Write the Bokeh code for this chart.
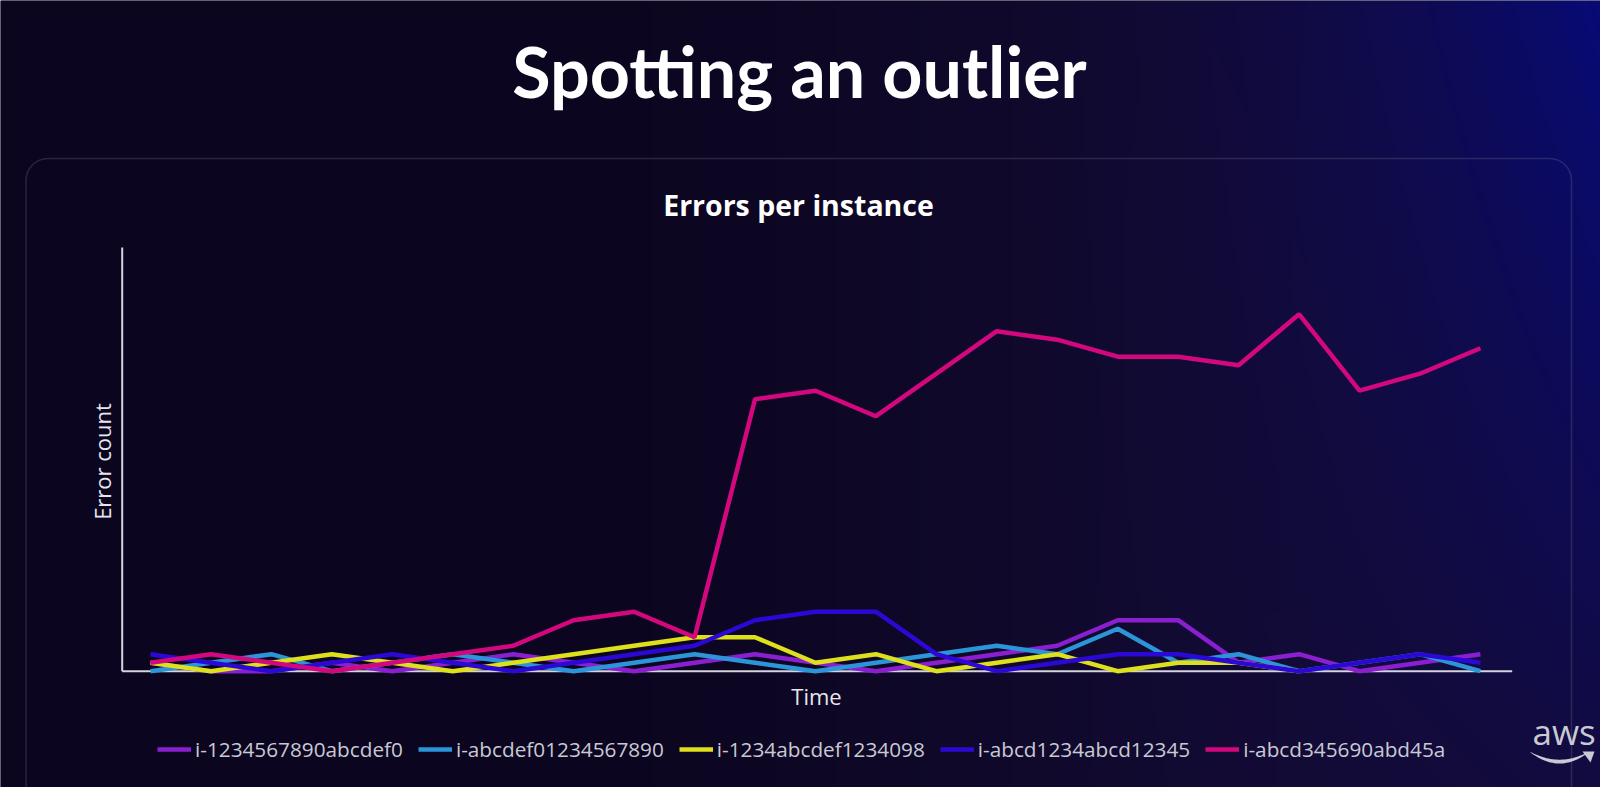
import numpy as np
from bokeh.plotting import figure
from bokeh.models import (Range1d, Label, BoxAnnotation, PolyAnnotation, Legend, LegendItem)
from bokeh.embed import file_html
from bokeh.resources import INLINE

NaN = float("nan")

# ---------------- data ----------------
time_index = list(range(23))
series_names = ["i-1234567890abcdef0", "i-abcdef01234567890", "i-1234abcdef1234098",
                "i-abcd1234abcd12345", "i-abcd345690abd45a"]
errors_purple = [1, 0, 0, 1, 0, 1, 2, 1, 0, 1, 2, 1, 0, 1, 2, 3, 6, 6, 1, 2, 0, 1, 2]
errors_lightblue = [0, 1, 2, 0, 1, 2, 1, 0, 1, 2, 1, 0, 1, 2, 3, 2, 5, 1, 2, 0, 1, 2, 0]
errors_yellow = [1, 0, 1, 2, 1, 0, 1, 2, 3, 4, 4, 1, 2, 0, 1, 2, 0, 1, 1, 0, NaN, NaN, NaN]
errors_darkblue = [2, 1, 0, 1, 2, 1, 0, 1, 2, 3, 6, 7, 7, 2, 0, 1, 2, 2, 1, 0, 1, 2, 1]
errors_pink = [1, 2, 1, 0, 1, 2, 3, 6, 7, 4, 32, 33, 30, 35, 40, 39, 37, 37, 36, 42, 33, 35, 38]
series_values = [errors_purple, errors_lightblue, errors_yellow, errors_darkblue, errors_pink]
series_colors = ["#8a1fd0", "#2b95d8", "#dfe01c", "#2c08d4", "#d3087e"]

main_title = "Spotting an outlier"
chart_title = "Errors per instance"
x_label = "Time"
y_label = "Error count"

# ---------------- layout constants ----------------
W, H = 1600, 787
X0_PX, X_STEP_PX = 150.0, 60.45      # pixel of first time step, pixels per step
Y0_PX, Y_UNIT_PX = 670.7, 8.5        # pixel of zero errors, pixels per error
x_start, x_end = -X0_PX / X_STEP_PX, (W - X0_PX) / X_STEP_PX
y_start, y_end = -(H - Y0_PX) / Y_UNIT_PX, Y0_PX / Y_UNIT_PX
axis_left = (121.7 - X0_PX) / X_STEP_PX
axis_right = (1511.7 - X0_PX) / X_STEP_PX
axis_top = (Y0_PX - 247) / Y_UNIT_PX

BG = "#0b0520"
p = figure(width=W, height=H, output_backend="svg", toolbar_location=None,
           x_range=Range1d(x_start, x_end), y_range=Range1d(y_start, y_end),
           min_border=0, x_axis_location=None, y_axis_location=None)
p.background_fill_color = BG
p.border_fill_color = BG
p.outline_line_color = None
p.grid.visible = False

# ---------------- gradient background ----------------
ny, nx = 197, 400
u = (np.arange(nx) + 0.5) / nx
v = (np.arange(ny) + 0.5) / ny          # 0 = top
U, V = np.meshgrid(u, v)
base = np.array([11, 5, 31], float)
tint = np.array([8, 6, 20], float)
blue = np.array([8, 10, 118], float)
sm = np.clip((U - 0.3) / 0.6, 0, 1)
sm = sm * sm * (3 - 2 * sm)
glow = np.clip((U - 0.55) / 0.45, 0, 1) ** 2.5 * (1 - 0.8 * V)
col = base + sm[..., None] * tint
col = col + glow[..., None] * (blue - col)
img = np.empty((ny, nx), dtype=np.uint32)
view = img.view(dtype=np.uint8).reshape((ny, nx, 4))
view[..., 0:3] = np.clip(np.round(col), 0, 255).astype(np.uint8)
view[..., 3] = 255
img = img[::-1]  # image rows start at the bottom
p.image_rgba(image=[img], x=x_start, y=y_start, dw=x_end - x_start, dh=y_end - y_start)

# rounded panel
p.add_layout(BoxAnnotation(left=25.5, right=1571, top=158, bottom=830,
                           left_units="canvas", right_units="canvas",
                           top_units="canvas", bottom_units="canvas",
                           fill_alpha=0, line_color="#736e8c", line_width=1.5,
                           border_radius=22))

# axis lines
p.line([axis_left, axis_left], [0, axis_top], line_color="#d4d4de", line_width=2)
p.line([axis_left, axis_right], [0, 0], line_color="#d4d4de", line_width=2)

# ---------------- series ----------------
items = []
for name, vals, c in zip(series_names, series_values, series_colors):
    r = p.line(time_index, vals, line_color=c, line_width=4.5)
    items.append(LegendItem(label=name, renderers=[r]))

legend = Legend(items=items, orientation="horizontal", location=(157, 24.5),
                padding=0, margin=0, spacing=15, glyph_width=34, glyph_height=20,
                label_standoff=4, background_fill_alpha=0, border_line_alpha=0,
                label_text_color="#c9c9d4", label_text_font="Open Sans",
                label_text_font_size="20.75px")
p.add_layout(legend, "center")

# ---------------- texts ----------------
def canvas_label(**kw):
    p.add_layout(Label(x_units="canvas", y_units="canvas", **kw))

canvas_label(x=799, y=70, text=main_title, text_align="center", text_baseline="alphabetic",
             text_font="Lato", text_font_style="bold", text_font_size="70px",
             text_color="#ffffff")
canvas_label(x=798, y=204, text=chart_title, text_align="center", text_baseline="alphabetic",
             text_font="Open Sans", text_font_style="bold", text_font_size="28.5px",
             text_color="#ffffff")
canvas_label(x=816, y=695, text=x_label, text_align="center", text_baseline="alphabetic",
             text_font="Open Sans", text_font_size="22px", text_color="#e6e6ee")
canvas_label(x=101, y=461, text=y_label, text_align="center", text_baseline="middle",
             angle=np.pi / 2, text_font="Open Sans", text_font_size="22px",
             text_color="#e6e6ee")

# aws logo (decorative)
canvas_label(x=1532, y=731, text="aws", text_align="left", text_baseline="alphabetic",
             text_font="Open Sans", text_font_size="35px", text_color="#c9c9d4")
xs = np.linspace(1530, 1588, 30)
k = (xs - 1559) / 29.0
y_low = 752 + 11 * (1 - k ** 2)
th = 3.2 * (1 - k ** 2) + 0.6
p.add_layout(PolyAnnotation(xs=list(xs) + list(xs[::-1]),
                            ys=list(y_low) + list((y_low - th)[::-1]),
                            xs_units="canvas", ys_units="canvas",
                            fill_color="#c9c9d4", fill_alpha=1, line_color=None))
p.add_layout(PolyAnnotation(xs=[1582, 1594, 1590], ys=[751, 751, 762],
                            xs_units="canvas", ys_units="canvas",
                            fill_color="#c9c9d4", fill_alpha=1, line_color=None))

open("out.html", "w").write(file_html(p, INLINE))
